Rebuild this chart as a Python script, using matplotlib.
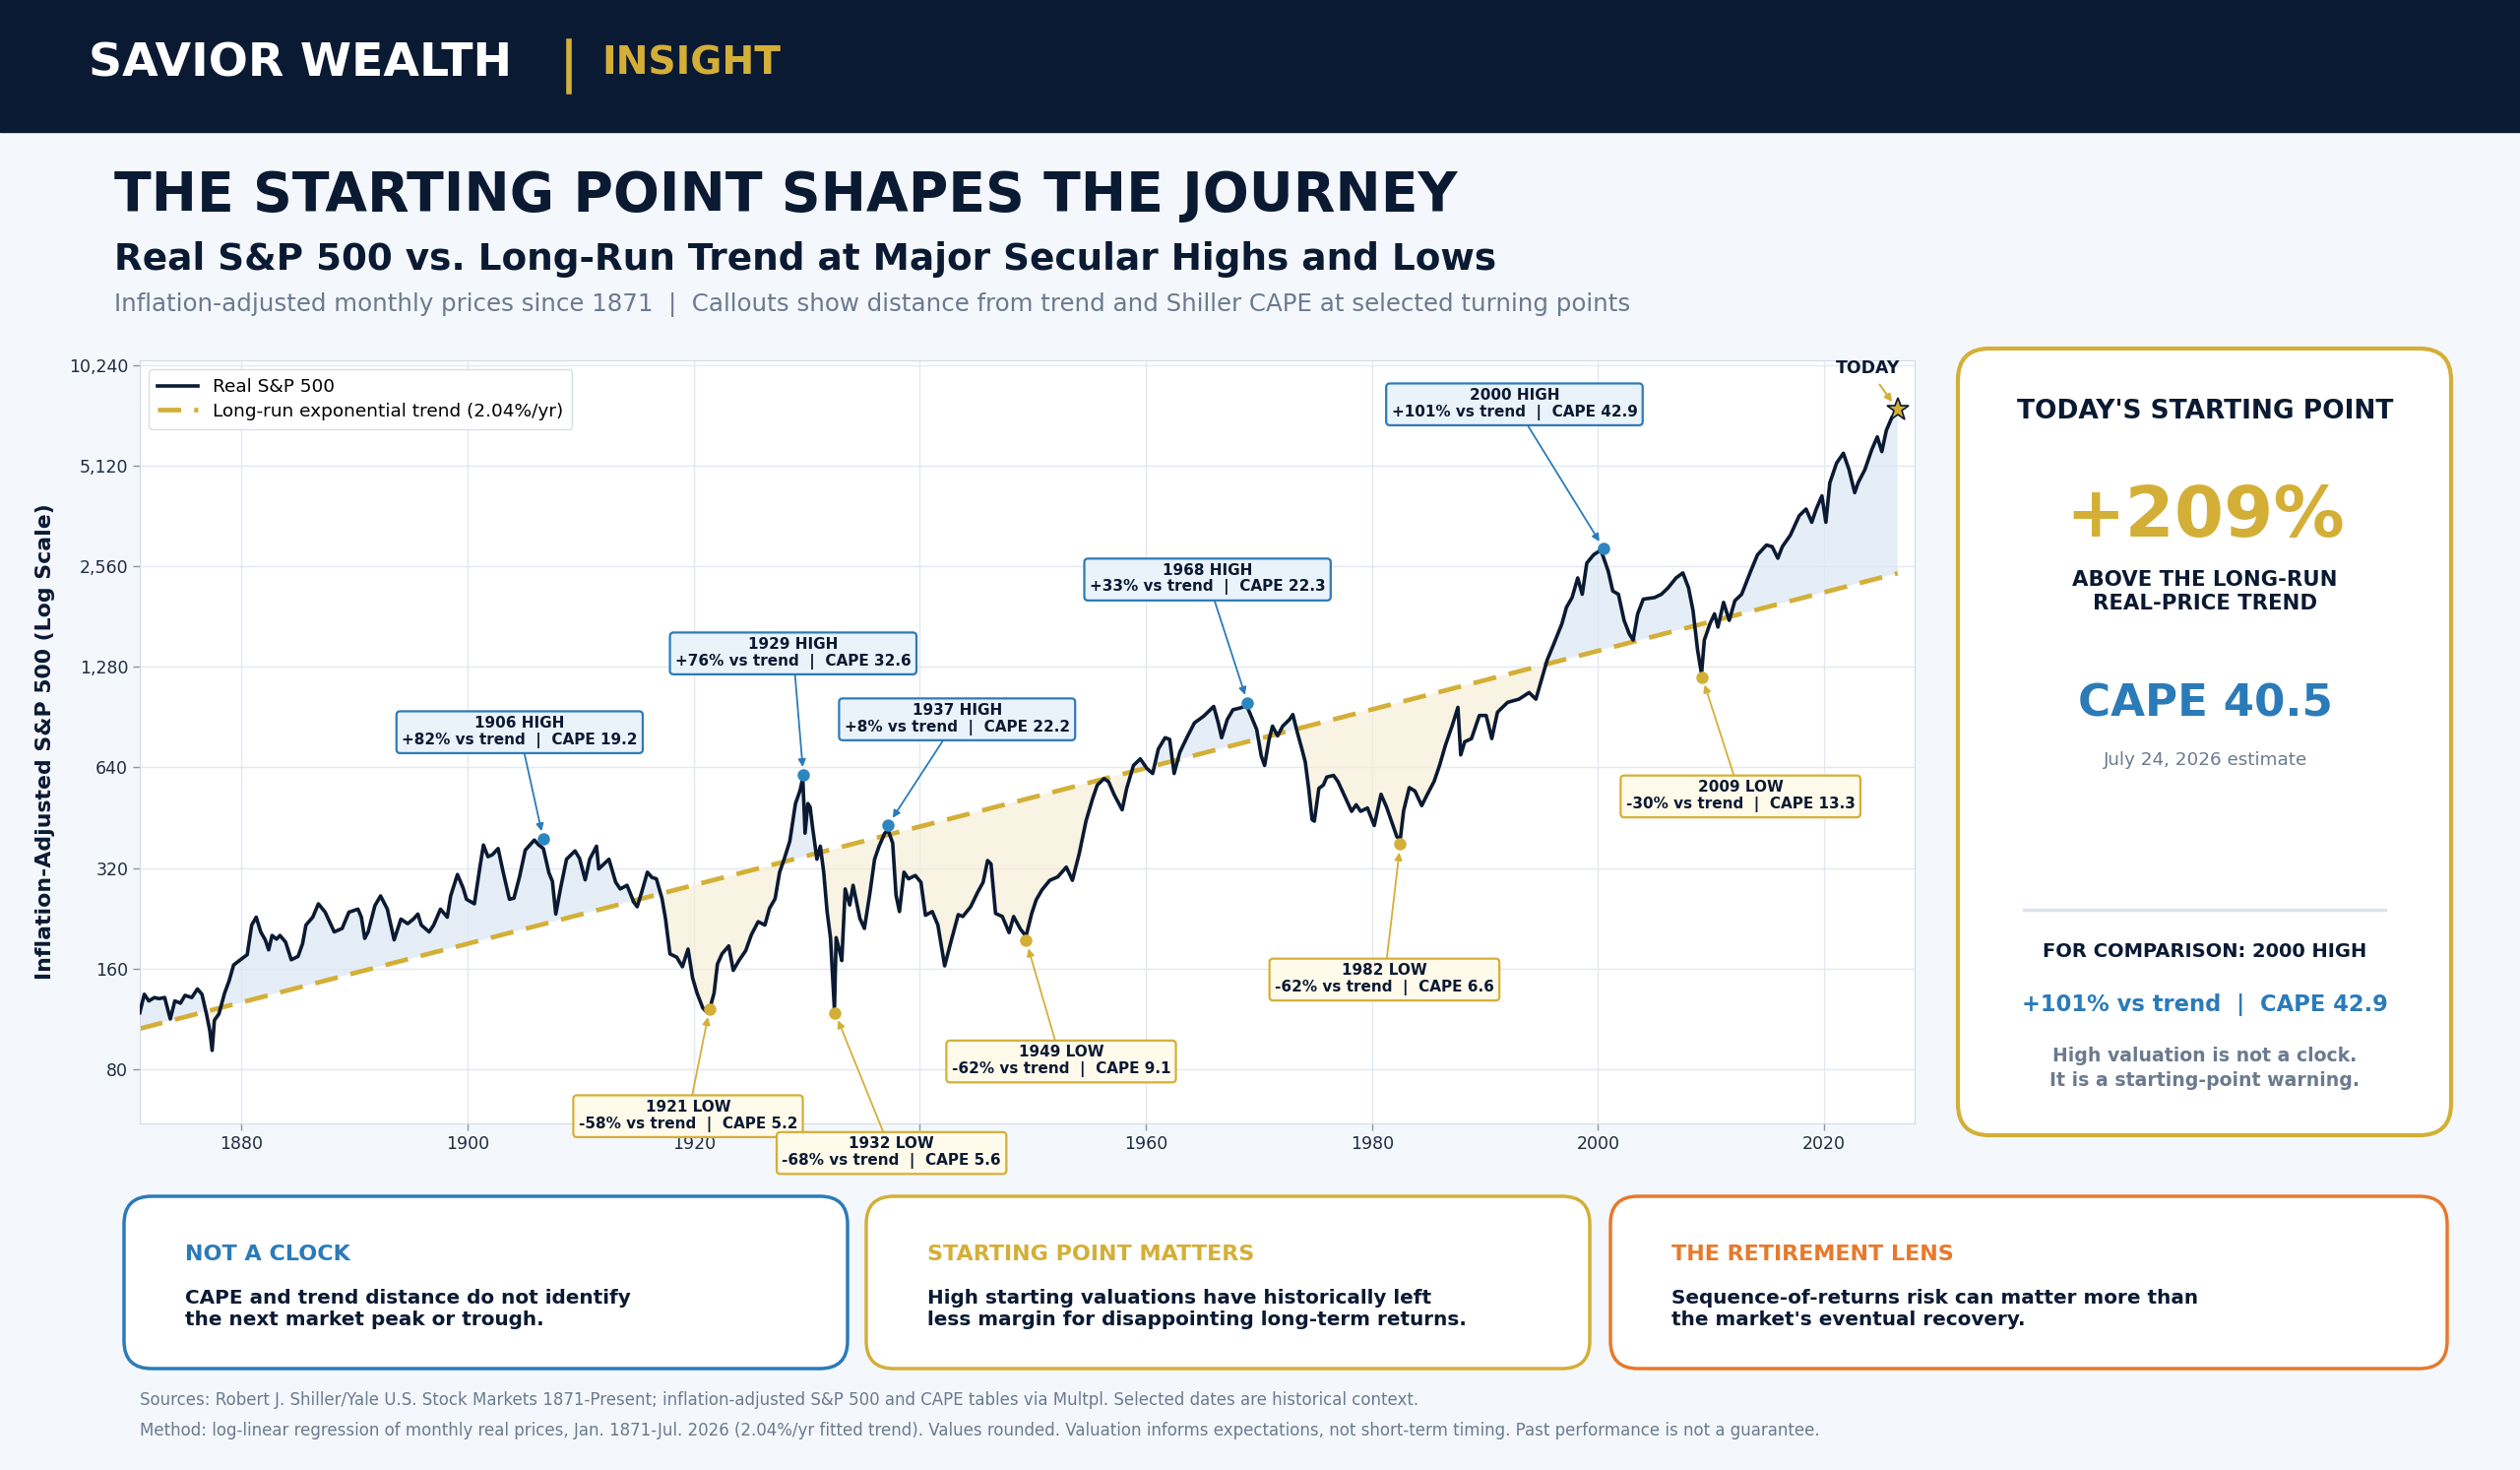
import matplotlib.pyplot as plt
import numpy as np
from matplotlib.patches import FancyBboxPatch, Rectangle
from matplotlib.ticker import NullLocator

# ---- data ----
years = [
    1871.0, 1871.4, 1871.8, 1872.3, 1872.7, 1873.2, 1873.7, 1874.1, 1874.6, 1875.0,
    1875.6, 1876.1, 1876.5, 1876.9, 1877.2, 1877.4, 1877.6, 1878.0, 1878.5, 1878.9,
    1879.3, 1879.9, 1880.5, 1880.9, 1881.3, 1881.7, 1882.1, 1882.4, 1882.7, 1883.1,
    1883.4, 1883.9, 1884.4, 1885.0, 1885.4, 1885.7, 1886.3, 1886.8, 1887.4, 1888.2,
    1888.9, 1889.5, 1890.3, 1890.6, 1890.9, 1891.2, 1891.8, 1892.3, 1892.9, 1893.5,
    1894.1, 1894.7, 1895.2, 1895.6, 1895.9, 1896.6, 1897.0, 1897.6, 1898.2, 1898.5,
    1899.1, 1899.6, 1899.9, 1900.6, 1901.1, 1901.4, 1901.8, 1902.2, 1902.7, 1903.1,
    1903.7, 1904.1, 1904.6, 1905.1, 1905.9, 1906.3, 1906.7, 1907.2, 1907.5, 1907.8,
    1908.2, 1908.75, 1909.5, 1909.9, 1910.4, 1910.8, 1911.4, 1911.6, 1912.5, 1913.1,
    1913.5, 1914.1, 1914.7, 1915.0, 1915.4, 1915.9, 1916.3, 1916.7, 1917.2, 1917.5,
    1917.9, 1918.5, 1919.0, 1919.5, 1919.9, 1920.3, 1920.8, 1921.2, 1921.5, 1921.8,
    1922.1, 1922.5, 1923.1, 1923.5, 1924.0, 1924.6, 1925.1, 1925.7, 1926.3, 1926.7,
    1927.2, 1927.6, 1928.0, 1928.5, 1929.0, 1929.4, 1929.65, 1929.85, 1930.1, 1930.3,
    1930.5, 1930.9, 1931.2, 1931.5, 1931.8, 1932.1, 1932.45, 1932.6, 1932.9, 1933.1,
    1933.4, 1933.8, 1934.1, 1934.7, 1935.1, 1935.6, 1936.0, 1936.4, 1936.9, 1937.2,
    1937.6, 1937.9, 1938.2, 1938.6, 1939.0, 1939.6, 1940.1, 1940.5, 1941.1, 1941.6,
    1942.2, 1942.8, 1943.4, 1943.8, 1944.5, 1945.1, 1945.6, 1946.0, 1946.3, 1946.7,
    1947.3, 1947.9, 1948.3, 1948.9, 1949.4, 1949.9, 1950.3, 1950.8, 1951.5, 1952.2,
    1952.96, 1953.5, 1954.1, 1954.7, 1955.3, 1955.7, 1956.3, 1956.7, 1957.2, 1957.9,
    1958.3, 1958.9, 1959.5, 1960.1, 1960.6, 1961.1, 1961.7, 1962.1, 1962.5, 1963.0,
    1963.7, 1964.3, 1965.1, 1965.7, 1966.0, 1966.4, 1966.7, 1967.2, 1967.7, 1968.3,
    1968.9, 1969.2, 1969.8, 1970.2, 1970.5, 1970.9, 1971.2, 1971.65, 1972.1, 1972.7,
    1973.0, 1973.4, 1973.8, 1974.1, 1974.4, 1974.7, 1974.9, 1975.3, 1975.7, 1976.0,
    1976.6, 1977.0, 1977.4, 1978.2, 1978.6, 1979.0, 1979.6, 1980.2, 1980.8, 1981.3,
    1981.7, 1982.2, 1982.5, 1982.8, 1983.3, 1983.8, 1984.4, 1984.9, 1985.5, 1986.0,
    1986.5, 1987.1, 1987.6, 1987.85, 1988.2, 1988.8, 1989.5, 1990.1, 1990.6, 1991.1,
    1992.0, 1993.0, 1993.9, 1994.5, 1995.0, 1995.5, 1996.1, 1996.8, 1997.2, 1997.7,
    1998.2, 1998.6, 1999.0, 1999.6, 2000.2, 2000.4, 2000.9, 2001.3, 2001.8, 2002.3,
    2002.75, 2003.1, 2003.5, 2004.0, 2005.0, 2005.6, 2006.2, 2006.9, 2007.5, 2008.0,
    2008.4, 2008.8, 2009.15, 2009.4, 2009.9, 2010.3, 2010.6, 2011.1, 2011.6, 2012.1,
    2012.7, 2013.5, 2014.1, 2014.9, 2015.4, 2015.9, 2016.3, 2017.0, 2017.8, 2018.4,
    2018.9, 2019.3, 2019.8, 2020.15, 2020.5, 2021.1, 2021.7, 2022.2, 2022.7, 2023.0,
    2023.6, 2024.2, 2024.7, 2025.1, 2025.5, 2026.0, 2026.3, 2026.5,
]
real_price = [
    118, 134, 128, 131, 130, 131, 113, 128, 126, 133,
    131, 139, 134, 117, 104, 91, 112, 117, 135, 147,
    164, 170, 176, 216, 228, 206, 195, 182, 201, 196,
    201, 192, 170, 174, 190, 216, 228, 250, 236, 206,
    211, 236, 241, 228, 197, 206, 247, 264, 241, 195,
    225, 218, 225, 233, 216, 206, 216, 241, 228, 264,
    306, 279, 258, 250, 324, 375, 346, 351, 366, 316,
    258, 260, 302, 362, 388, 375, 366, 309, 292, 233,
    276, 340, 360, 342, 295, 340, 372, 318, 340, 290,
    277, 284, 253, 245, 271, 311, 300, 297, 259, 226,
    177, 173, 162, 183, 150, 135, 122, 118, 124, 135,
    165, 177, 187, 158, 169, 181, 202, 221, 216, 242,
    259, 311, 340, 385, 499, 545, 595, 407, 499, 487,
    427, 340, 372, 311, 237, 198, 120, 198, 181, 169,
    277, 248, 284, 226, 211, 271, 340, 372, 407, 415,
    380, 265, 237, 311, 297, 304, 290, 231, 237, 216,
    163, 195, 232, 229, 245, 270, 290, 337, 329, 234,
    229, 205, 229, 210, 200, 234, 257, 275, 294, 301,
    322, 294, 353, 442, 518, 567, 593, 580, 530, 478,
    554, 649, 679, 635, 614, 727, 786, 777, 614, 711,
    796, 871, 911, 953, 975, 871, 786, 891, 953, 964,
    980, 931, 832, 694, 649, 777, 851, 796, 851, 891,
    922, 814, 727, 664, 554, 447, 442, 554, 567, 599,
    606, 580, 542, 473, 495, 473, 484, 429, 532, 486,
    444, 397, 390, 475, 557, 544, 492, 532, 582, 653,
    747, 855, 969, 698, 764, 781, 916, 916, 781, 937,
    1003, 1025, 1073, 1025, 1174, 1344, 1505, 1725, 1930, 2066,
    2365, 2113, 2619, 2773, 2860, 2773, 2477, 2161, 2113, 1765,
    1611, 1540, 1846, 2043, 2066, 2113, 2211, 2365, 2448, 2211,
    1887, 1439, 1220, 1540, 1725, 1846, 1685, 1998, 1765, 2021,
    2113, 2477, 2773, 2967, 2934, 2709, 2934, 3173, 3634, 3803,
    3472, 3803, 4164, 3472, 4557, 5222, 5588, 4989, 4257, 4557,
    4989, 5716, 6254, 5650, 6543, 7166, 7330, 7400,
]

trend_start_year = 1871.0
trend_start_value = 105.7
trend_rate = 0.0204

callout_years = [1906.7, 1929.7, 1937.2, 1969.0, 2000.5, 1921.4, 1932.5, 1949.4, 1982.5, 2009.2]
callout_values = [390, 607, 431, 1000, 2896, 121, 118, 194, 377, 1195]
callout_titles = ["1906 HIGH", "1929 HIGH", "1937 HIGH", "1968 HIGH", "2000 HIGH",
                  "1921 LOW", "1932 LOW", "1949 LOW", "1982 LOW", "2009 LOW"]
callout_gaps = ["+82%", "+76%", "+8%", "+33%", "+101%", "-58%", "-68%", "-62%", "-62%", "-30%"]
callout_cape = ["19.2", "32.6", "22.2", "22.3", "42.9", "5.2", "5.6", "9.1", "6.6", "13.3"]
callout_kind = ["high"] * 5 + ["low"] * 5
# label box centres (year, value)
label_years = [1904.6, 1928.8, 1943.3, 1965.45, 1992.6, 1919.5, 1937.5, 1952.5, 1981.1, 2012.6]
label_values = [819, 1410, 895, 2347, 7853, 58, 45, 84.6, 148.8, 526]

today_year = 2026.5
today_value = 7540

y_ticks = [80, 160, 320, 640, 1280, 2560, 5120, 10240]
x_ticks = [1880, 1900, 1920, 1940, 1960, 1980, 2000, 2020]
x_tick_labels = ["1880", "1900", "1920", "", "1960", "1980", "2000", "2020"]  # 1940 sits under a callout

cards = [
    ("NOT A CLOCK", "CAPE and trend distance do not identify\nthe next market peak or trough."),
    ("STARTING POINT MATTERS", "High starting valuations have historically left\nless margin for disappointing long-term returns."),
    ("THE RETIREMENT LENS", "Sequence-of-returns risk can matter more than\nthe market's eventual recovery."),
]

# ---- colours ----
NAVY = "#0b1a33"
GOLD = "#d4af37"
BLUE = "#2b7bb9"
ORANGE = "#e8792b"
GRAY = "#6b7a8f"
BG = "#f4f7fc"

W, H = 2560, 1493
fig = plt.figure(figsize=(W / 100, H / 100), dpi=100)
fig.patch.set_facecolor(BG)

# background layer in pixel coordinates
bg = fig.add_axes([0, 0, 1, 1], zorder=0)
bg.set_xlim(0, W)
bg.set_ylim(H, 0)
bg.axis("off")

bg.add_patch(Rectangle((0, 0), W, 134, color=NAVY))
bg.text(90, 65, "SAVIOR WEALTH", color="white", fontsize=34, fontweight="bold", va="center")
bg.plot([578, 578], [42, 93], color=GOLD, lw=4)
bg.text(611, 65, "INSIGHT", color=GOLD, fontsize=28.2, fontweight="bold", va="center")

bg.text(116, 199, "THE STARTING POINT SHAPES THE JOURNEY", color=NAVY, fontsize=39.8,
        fontweight="bold", va="center")
bg.text(116, 263, "Real S&P 500 vs. Long-Run Trend at Major Secular Highs and Lows", color=NAVY,
        fontsize=26.9, fontweight="bold", va="center")
bg.text(116, 309, "Inflation-adjusted monthly prices since 1871  |  Callouts show distance from trend "
        "and Shiller CAPE at selected turning points", color=GRAY, fontsize=17.65, va="center")

# right panel
bg.add_patch(FancyBboxPatch((1989, 354), 501, 799, boxstyle="round,pad=0,rounding_size=32",
                            fc="white", ec=GOLD, lw=3))
px = 2240
bg.text(px, 418, "TODAY'S STARTING POINT", color=NAVY, fontsize=19, fontweight="bold",
        ha="center", va="center")
bg.text(px, 526, "+209%", color=GOLD, fontsize=52, fontweight="bold", ha="center", va="center")
bg.text(px, 601, "ABOVE THE LONG-RUN\nREAL-PRICE TREND", color=NAVY, fontsize=15.3,
        fontweight="bold", ha="center", va="center", linespacing=1.3)
bg.text(px, 715, "CAPE 40.5", color=BLUE, fontsize=32.5, fontweight="bold", ha="center", va="center")
bg.text(px, 772, "July 24, 2026 estimate", color=GRAY, fontsize=13.2, ha="center", va="center")
bg.plot([2056, 2423], [924, 924], color="#dde3ec", lw=2.5)
bg.text(px, 967, "FOR COMPARISON: 2000 HIGH", color=NAVY, fontsize=14, fontweight="bold",
        ha="center", va="center")
bg.text(px, 1021, "+101% vs trend  |  CAPE 42.9", color=BLUE, fontsize=16.3, fontweight="bold",
        ha="center", va="center")
bg.text(px, 1085, "High valuation is not a clock.\nIt is a starting-point warning.", color=GRAY,
        fontsize=13.6, fontweight="bold", ha="center", va="center", linespacing=1.35)

# bottom cards
card_boxes = [(126, 735, BLUE), (880, 735, GOLD), (1636, 850, ORANGE)]
for (title, body), (cx, cw, col) in zip(cards, card_boxes):
    bg.add_patch(FancyBboxPatch((cx, 1215), cw, 175, boxstyle="round,pad=0,rounding_size=28",
                                fc="white", ec=col, lw=2.5))
    bg.text(cx + 62, 1274, title, color=col, fontsize=16, fontweight="bold", va="center")
    bg.text(cx + 62, 1330, body, color=NAVY, fontsize=14.4, fontweight="bold", va="center",
            linespacing=1.2)

bg.text(142, 1422, "Sources: Robert J. Shiller/Yale U.S. Stock Markets 1871-Present; inflation-adjusted "
        "S&P 500 and CAPE tables via Multpl. Selected dates are historical context.",
        color=GRAY, fontsize=12, va="center")
bg.text(142, 1453, "Method: log-linear regression of monthly real prices, Jan. 1871-Jul. 2026 (2.04%/yr "
        "fitted trend). Values rounded. Valuation informs expectations, not short-term timing. "
        "Past performance is not a guarantee.", color=GRAY, fontsize=12, va="center")

# ---- main chart ----
ax = fig.add_axes([142 / W, 1 - 1141 / H, (1945 - 142) / W, (1141 - 366) / H], zorder=1)
ax.set_facecolor("white")

yrs = np.array(years)
price = np.array(real_price, dtype=float)
trend = trend_start_value * (1 + trend_rate) ** (yrs - trend_start_year)

ax.fill_between(yrs, price, trend, where=price >= trend, interpolate=True,
                color="#dbe8f5", alpha=0.7, lw=0, zorder=1)
ax.fill_between(yrs, price, trend, where=price < trend, interpolate=True,
                color="#f6eed6", alpha=0.7, lw=0, zorder=1)
ax.plot(yrs, price, color=NAVY, lw=2.6, zorder=3, label="Real S&P 500")
ax.plot(yrs, trend, color=GOLD, lw=3.4, dashes=(5, 2.8), zorder=2,
        label="Long-run exponential trend (2.04%/yr)")

ax.set_yscale("log")
ax.set_xlim(1871, 2028)
ax.set_ylim(55, 10600)
ax.set_yticks(y_ticks)
ax.set_yticklabels([f"{v:,}" for v in y_ticks])
ax.yaxis.set_minor_locator(NullLocator())
ax.set_xticks(x_ticks)
ax.set_xticklabels(x_tick_labels)
ax.tick_params(labelsize=12.5, colors="#1f2d42", length=5, width=1)
ax.tick_params(axis="both", color="#8a96a8")
ax.grid(True, color="#e3e8f0", lw=1)
ax.set_axisbelow(True)
for s in ax.spines.values():
    s.set_color("#d3dae5")
ax.set_ylabel("Inflation-Adjusted S&P 500 (Log Scale)", fontsize=15.8, fontweight="bold",
              color=NAVY, labelpad=10)

leg = ax.legend(loc="upper left", fontsize=13.3, frameon=True, handlelength=2.2,
                borderpad=0.5, labelspacing=0.35)
leg.get_frame().set_edgecolor("#d8dee8")
leg.get_frame().set_facecolor("white")
leg.get_frame().set_alpha(1)

# callouts
for i in range(len(callout_years)):
    high = callout_kind[i] == "high"
    ec = BLUE if high else GOLD
    fc = "#eaf2fa" if high else "#fffaea"
    mc = "#2e86c1" if high else GOLD
    ax.plot(callout_years[i], callout_values[i], "o", color=mc, ms=8, zorder=5)
    txt = f"{callout_titles[i]}\n{callout_gaps[i]} vs trend  |  CAPE {callout_cape[i]}"
    ax.annotate(txt, xy=(callout_years[i], callout_values[i]),
                xytext=(label_years[i], label_values[i]), ha="center", va="center",
                fontsize=11, fontweight="bold", color=NAVY, zorder=6,
                annotation_clip=False, linespacing=1.15,
                bbox=dict(boxstyle="round,pad=0.35,rounding_size=0.25", fc=fc, ec=ec, lw=1.6),
                arrowprops=dict(arrowstyle="-|>", color=ec, lw=1.3, mutation_scale=11,
                                shrinkA=0, shrinkB=6))

ax.plot(today_year, today_value, marker="*", color=GOLD, mec=NAVY, mew=1.2, ms=17, zorder=6)
ax.annotate("TODAY", xy=(today_year, today_value), xytext=(2023.9, 10016), ha="center",
            va="center", fontsize=12.5, fontweight="bold", color=NAVY, zorder=6,
            annotation_clip=False,
            arrowprops=dict(arrowstyle="-|>", color=GOLD, lw=1.5, mutation_scale=11,
                            shrinkA=4, shrinkB=7))

fig.savefig("out.png", dpi=100, facecolor=fig.get_facecolor())
